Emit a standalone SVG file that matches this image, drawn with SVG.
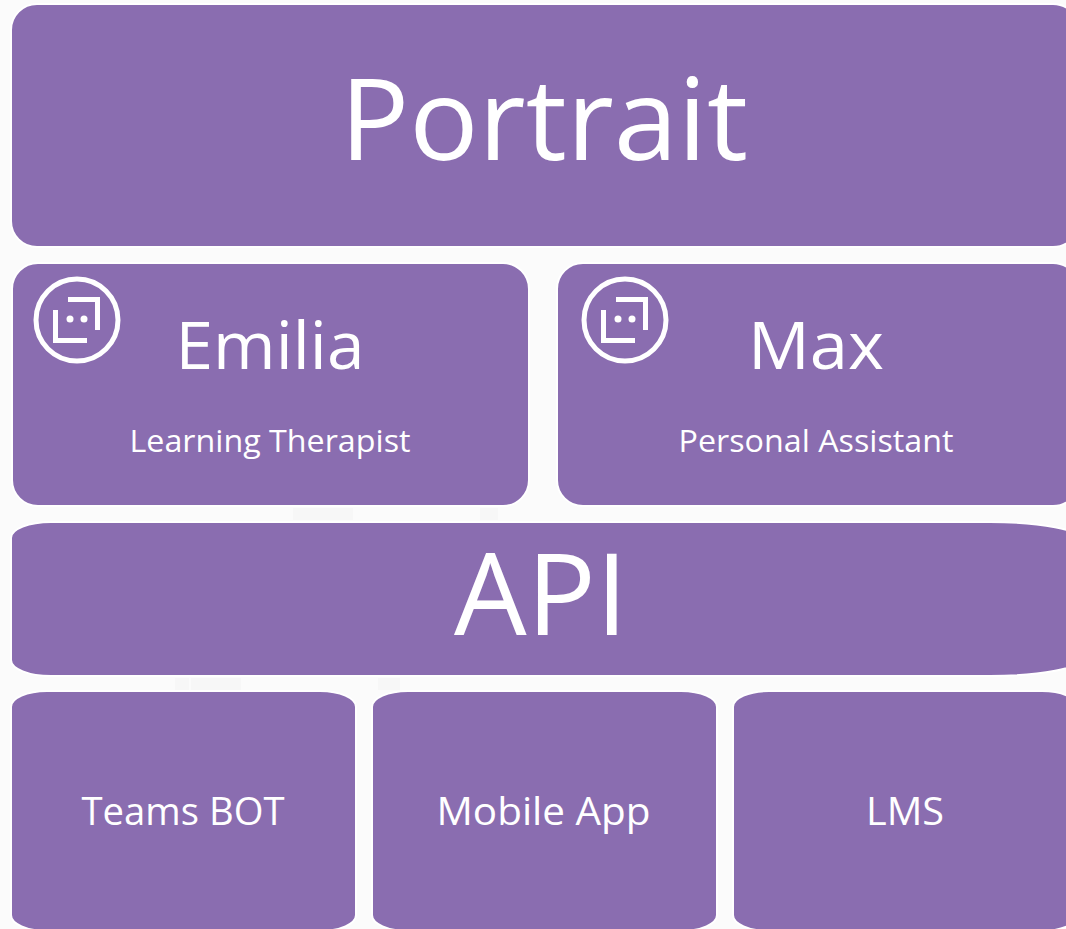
<svg xmlns="http://www.w3.org/2000/svg" width="1066" height="929" viewBox="0 0 1066 929">
<style>
.b{fill:#8a6db0;stroke:#fff;stroke-width:2}
.p{fill:#f7f7f7}
text{font-family:"Open Sans","Noto Sans","Liberation Sans",sans-serif;fill:#fff;text-anchor:middle}
.ic{fill:none;stroke:#fff}
</style>
<defs>
<g id="bot">
<circle cx="0" cy="0" r="41" class="ic" stroke-width="5"/>
<path d="M-9-20.500H20.500V10M-21.500-10V20.500H10" class="ic" stroke-width="5"/>
<circle cx="-7" cy="-1" r="3.500" fill="#fff"/><circle cx="7" cy="-1" r="3.500" fill="#fff"/>
</g>
</defs>
<rect width="1066" height="929" fill="#fbfbfb"/>
<g id="backdrop">
<rect class="p" x="175" y="678" width="14" height="12"/><rect class="p" x="191" y="678" width="50" height="12"/>
<rect class="p" x="378" y="678" width="22" height="12"/><rect class="p" x="293" y="508" width="60" height="12"/>
<rect class="p" x="480" y="508" width="18" height="12"/>
</g>
<g id="portrait"><rect class="b" x="11" y="4" width="1068" height="243" rx="26" ry="26"/><text x="544" y="160" font-size="114" textLength="408" lengthAdjust="spacingAndGlyphs">Portrait</text></g>
<g id="emilia"><rect class="b" x="12" y="263" width="517" height="243" rx="26" ry="26"/><use href="#bot" x="77" y="320"/><text x="270" y="369" font-size="65" textLength="189" lengthAdjust="spacingAndGlyphs">Emilia</text><text x="270" y="452" font-size="31" textLength="281" lengthAdjust="spacingAndGlyphs">Learning Therapist</text></g>
<g id="max"><rect class="b" x="557" y="263" width="522" height="243" rx="26" ry="26"/><use href="#bot" x="625" y="320"/><text x="816" y="369" font-size="65" textLength="136" lengthAdjust="spacingAndGlyphs">Max</text><text x="816" y="452" font-size="31" textLength="275" lengthAdjust="spacingAndGlyphs">Personal Assistant</text></g>
<g id="api"><path class="b" d="M51 522H990A92 18 0 0 1 1082 540V658A92 18 0 0 1 990 676H51A40 16 0 0 1 11 660V538A40 16 0 0 1 51 522Z"/><text x="541" y="635" font-size="114" textLength="174" lengthAdjust="spacingAndGlyphs">API</text></g>
<g id="teams"><rect class="b" x="11" y="691" width="345" height="240" rx="36" ry="16"/><text x="183" y="825" font-size="38" textLength="203" lengthAdjust="spacingAndGlyphs">Teams BOT</text></g>
<g id="mobile"><rect class="b" x="372" y="691" width="345" height="240" rx="36" ry="16"/><text x="543.500" y="825" font-size="38" textLength="214" lengthAdjust="spacingAndGlyphs">Mobile App</text></g>
<g id="lms"><rect class="b" x="733" y="691" width="345" height="240" rx="36" ry="16"/><text x="905" y="825" font-size="38" textLength="78" lengthAdjust="spacingAndGlyphs">LMS</text></g>
<g id="connectors"/>
</svg>
